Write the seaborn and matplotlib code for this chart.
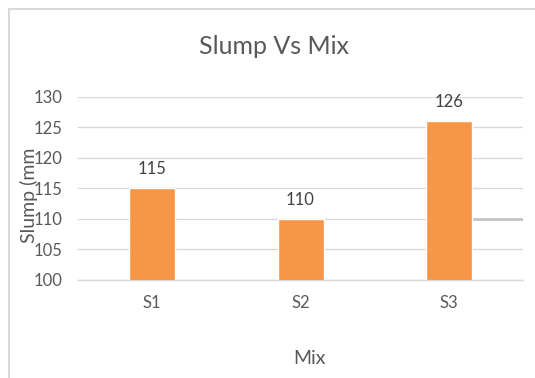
import matplotlib
matplotlib.use("Agg")
import matplotlib.pyplot as plt
from matplotlib.lines import Line2D
import seaborn as sns
import pandas as pd

# Slump test results per mix
mixes = ["S1", "S2", "S3"]
slump_mm = [115, 110, 126]
y_ticks = [100, 105, 110, 115, 120, 125, 130]

sns.set_theme(style="white")
plt.rcParams["font.family"] = ["Lato", "DejaVu Sans"]

df = pd.DataFrame({"Mix": mixes, "Slump": slump_mm})

fig = plt.figure(figsize=(5.35, 3.78), dpi=100)
ax = fig.add_axes([0.1458, 0.2593, 0.8318, 0.4841])

sns.barplot(data=df, x="Mix", y="Slump", color="#F79646", width=0.31,
            saturation=1, ax=ax, zorder=3)

ax.set_ylim(100, 130)
ax.set_yticks(y_ticks)
ax.grid(axis="y", color="#d9d9d9", linewidth=1.0, zorder=0)
ax.grid(axis="x", visible=False)
for side in ["left", "right", "top"]:
    ax.spines[side].set_visible(False)
ax.spines["bottom"].set_color("#d9d9d9")
ax.spines["bottom"].set_linewidth(1.0)

ax.tick_params(axis="y", length=0, pad=11, labelsize=12, labelcolor="#595959")
ax.tick_params(axis="x", length=0, pad=11, labelsize=12, labelcolor="#595959")

# value labels above each bar
for container in ax.containers:
    ax.bar_label(container, labels=[str(v) for v in slump_mm], padding=8,
                 fontsize=12, color="#404040")

# darker stretch of the 110 gridline at the right edge
ax.axhline(110, xmin=0.885, xmax=1.0, color="#c0c0c0", linewidth=1.8, zorder=1)

ax.set_xlabel("Mix", fontsize=14, color="#595959")
ax.xaxis.set_label_coords(0.521, -0.38)
ax.set_ylabel("Slump (mm", fontsize=14, color="#595959")
ax.yaxis.set_label_coords(-0.09, 0.46)

fig.text(0.513, 0.878, "Slump Vs Mix", ha="center", va="center",
         fontsize=18, color="#595959")

# chart frame (left and top edges)
fig.add_artist(Line2D([0.016, 0.016], [0.0, 0.975], transform=fig.transFigure,
                      color="#d9d9d9", linewidth=1.5))
fig.add_artist(Line2D([0.016, 1.0], [0.975, 0.975], transform=fig.transFigure,
                      color="#d9d9d9", linewidth=1.5))

fig.savefig("out.png", dpi=100)
